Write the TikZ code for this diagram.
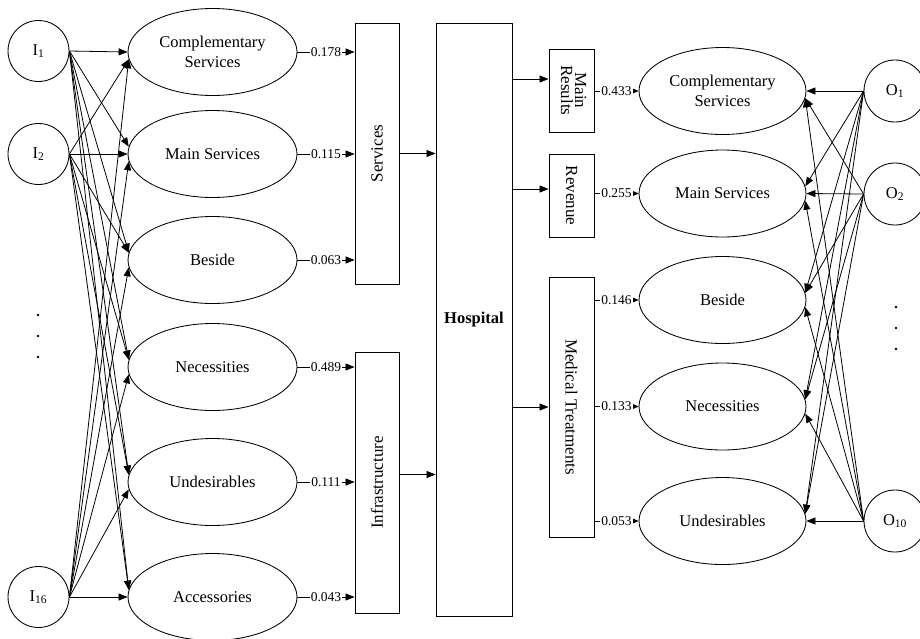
\documentclass[tikz,border=0pt]{standalone}
\usepackage{fontspec}
\setmainfont{Liberation Serif}
\usetikzlibrary{shapes.geometric,arrows.meta,calc}
\begin{document}
\begin{tikzpicture}[x=1pt,y=-1pt,
  every node/.style={font=\fontsize{16.5}{19.8}\selectfont},
  circ/.style={draw, line width=0.85pt, circle, minimum size=61pt, inner sep=0pt},
  ell/.style={draw, line width=0.85pt, ellipse, minimum width=169pt, minimum height=87pt, inner sep=0pt, align=center},
  rell/.style={ell, minimum width=167pt},
  vbox/.style={draw, line width=0.85pt, rectangle, inner sep=0pt, font=\fontsize{17}{17}\selectfont},
  arr/.style={line width=0.8pt, -{Triangle[length=9pt,width=7pt]}},
  sarr/.style={line width=0.8pt, -{Triangle[length=6pt,width=5pt]}},
  num/.style={font=\fontsize{13.5}{16}\selectfont, fill=white, inner sep=1pt},
]
\useasboundingbox (0,0) rectangle (920,638);

% input circles
\node[circ] (I1) at (38.5,51) {I\textsubscript{1}};
\node[circ] (I2) at (38.5,154) {I\textsubscript{2}};
\node[circ] (I16) at (38.5,597) {I\textsubscript{16}};
\foreach \y in {315,336,357} \fill (38,\y) circle (1.3);

% left ellipses
\node[ell] (L1) at (212.5,52) {Complementary\\Services};
\node[ell] (L2) at (212.5,154) {Main Services};
\node[ell] (L3) at (212.5,260) {Beside};
\node[ell] (L4) at (212.5,367) {Necessities};
\node[ell] (L5) at (212.5,482) {Undesirables};
\node[ell] (L6) at (212.5,597) {Accessories};

% left fan
\foreach \e/\a in {L1/180,L2/175,L3/175,L4/175,L5/175,L6/175} \draw[arr] (I1.east) -- (\e.\a);
\foreach \e/\a in {L1/185,L2/180,L3/175,L4/175,L5/175,L6/175} \draw[arr] (I2.east) -- (\e.\a);
\foreach \e/\a in {L1/185,L2/185,L3/185,L4/185,L5/185,L6/180} \draw[arr] (I16.east) -- (\e.\a);

% middle boxes
\node[vbox, minimum width=44pt, minimum height=261pt] (S) at (377,153.5) {\rotatebox{90}{Services}};
\node[vbox, minimum width=44pt, minimum height=261pt] (INF) at (377,482.5) {\rotatebox{90}{Infrastructure}};
\node[vbox, minimum width=76pt, minimum height=593pt, font=\fontsize{16.5}{17}\selectfont\bfseries] (H) at (474,319.5) {Hospital};

\foreach \e/\v in {L1/0.178,L2/0.115,L3/0.063} \draw[arr] (\e.east) -- node[num]{\v} (\e.east -| S.west);
\foreach \e/\v in {L4/0.489,L5/0.111,L6/0.043} \draw[arr] (\e.east) -- node[num]{\v} (\e.east -| INF.west);

\draw[arr] (S.east) -- (S.east -| H.west);
\coordinate (inf) at ($(INF.east)+(0,-8)$);
\draw[arr] (inf) -- (inf -| H.west);

% right boxes
\node[vbox, minimum width=45pt, minimum height=83pt] (MR) at (571.5,90.5) {\rotatebox{-90}{\begin{tabular}{@{}c@{}}Main\\[-3pt]Results\end{tabular}}};
\node[vbox, minimum width=45pt, minimum height=83pt] (RV) at (571.5,195.5) {\rotatebox{-90}{Revenue}};
\node[vbox, minimum width=45pt, minimum height=260pt] (MT) at (571.5,407) {\rotatebox{-90}{Medical Treatments}};

\coordinate (h1) at (512,79);
\coordinate (h2) at (512,189);
\coordinate (h3) at (512,407);
\draw[arr] (h1) -- (h1 -| MR.west);
\draw[arr] (h2) -- (h2 -| RV.west);
\draw[arr] (h3) -- (h3 -| MT.west);

% right ellipses
\node[rell] (R1) at (722.5,91) {Complementary\\Services};
\node[rell] (R2) at (722.5,193.5) {Main Services};
\node[rell] (R3) at (722.5,300) {Beside};
\node[rell] (R4) at (722.5,406.5) {Necessities};
\node[rell] (R5) at (722.5,521) {Undesirables};

\draw[sarr] (R1.west -| MR.east) -- node[num]{0.433} (R1.west);
\draw[sarr] (R2.west -| RV.east) -- node[num]{0.255} (R2.west);
\foreach \e/\v in {R3/0.146,R4/0.133,R5/0.053} \draw[sarr] (\e.west -| MT.east) -- node[num]{\v} (\e.west);

% output circles
\node[circ, minimum size=62pt] (O1) at (895,91) {O\textsubscript{1}};
\node[circ, minimum size=62pt] (O2) at (895,194) {O\textsubscript{2}};
\node[circ, minimum size=62pt] (O10) at (895,521) {O\textsubscript{10}};
\foreach \y in {307,328,349} \fill (896,\y) circle (1.3);

% right fan
\foreach \e/\a in {R1/0,R2/5,R3/5,R4/5,R5/5} \draw[arr] (O1.west) -- (\e.\a);
\foreach \e/\a in {R1/-5,R2/0,R3/5,R4/5,R5/5} \draw[arr] (O2.west) -- (\e.\a);
\foreach \e/\a in {R1/-5,R2/-5,R3/-5,R4/-5,R5/0} \draw[arr] (O10.west) -- (\e.\a);
\end{tikzpicture}
\end{document}
